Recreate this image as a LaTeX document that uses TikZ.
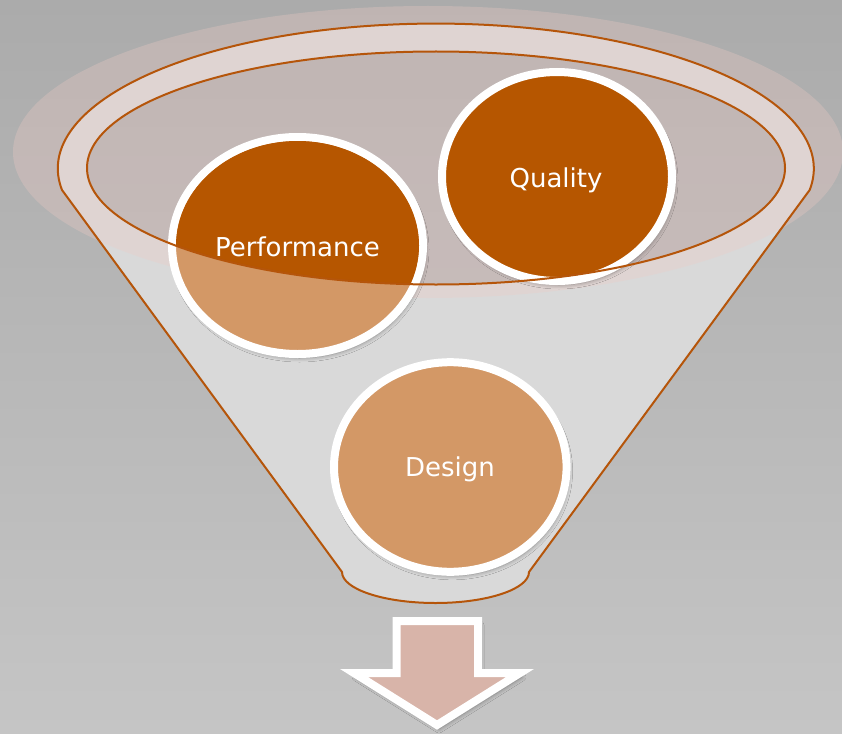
\documentclass[tikz,border=0pt]{standalone}
\usepackage{fontspec}
\setmainfont{DejaVu Sans}
\usetikzlibrary{shapes.geometric,shadows.blur}
\definecolor{bgtop}{HTML}{ABABAB}
\definecolor{bgbot}{HTML}{C5C5C5}
\definecolor{funnelfill}{HTML}{D9D9D9}
\definecolor{funnelline}{HTML}{B5550A}
\definecolor{glowpink}{RGB}{240,203,197}
\definecolor{darkor}{HTML}{B65600}
\definecolor{lightor}{HTML}{D39866}
\definecolor{arrowfill}{HTML}{D8B4A9}
\begin{document}
\begin{tikzpicture}[x=1pt,y=-1pt,
  softshadow/.style={blur shadow={shadow xshift=2pt, shadow yshift=-4pt, shadow opacity=35, shadow blur steps=8, shadow blur radius=4pt}},
  ball/.style={ellipse, draw=white, line width=8pt, inner sep=0pt, softshadow},
  lbl/.style={text=white, font=\fontsize{26}{30}\selectfont, anchor=base, inner sep=0pt},
  fline/.style={draw=funnelline, line width=2pt}]
\useasboundingbox (0,0) rectangle (842,733);
\shade[top color=bgtop, bottom color=bgbot] (0,0) rectangle (842,733);
% funnel body with hole
\fill[funnelfill, even odd rule] (62,190) arc[start angle=188.5, end angle=-8.5, x radius=378pt, y radius=145pt]
  -- (529,572) arc[start angle=0, end angle=-180, x radius=93.5pt, y radius=31pt] -- cycle
  (436,168) ellipse [x radius=349pt, y radius=116.5pt];
% glow
\fill[glowpink, opacity=0.3] (428,152) ellipse [x radius=415pt, y radius=146pt];
% funnel outline
\draw[fline] (62,190) arc[start angle=188.5, end angle=-8.5, x radius=378pt, y radius=145pt]
  -- (529,572) arc[start angle=0, end angle=-180, x radius=93.5pt, y radius=31pt] -- cycle;
% circles
\node[ball, fill=lightor, minimum width=251pt, minimum height=217pt] (perf) at (297.5,245.5) {};
\node[ball, fill=darkor, minimum width=230pt, minimum height=209pt] (qual) at (557,176.5) {};
\node[ball, fill=lightor, minimum width=232.6pt, minimum height=209.6pt] (des) at (450.3,467) {};
\begin{scope}
  \clip (436,168) ellipse [x radius=349pt, y radius=116.5pt];
  \fill[darkor] (perf.center) ellipse [x radius=121.5pt, y radius=104.5pt];
\end{scope}
\node[lbl] (perft) at (297.5,256.7) {Performance};
\node[lbl] (qualt) at (556,187) {Quality};
\node[lbl] (dest) at (450,476.7) {Design};
% inner rim
\draw[fline] (436,168) ellipse [x radius=349pt, y radius=116.5pt];
% arrow
\draw[draw=white, line width=8pt, miter limit=10, fill=arrowfill, softshadow]
  (396.5,621) -- (478,621) -- (478,673) -- (520,673) -- (437,725) -- (354,673) -- (396.5,673) -- cycle;
\end{tikzpicture}
\end{document}
